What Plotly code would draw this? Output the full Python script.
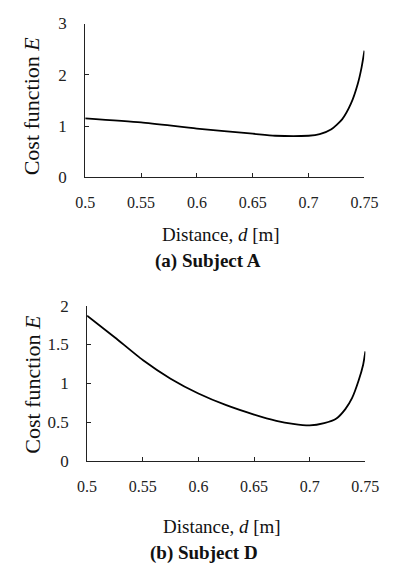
import plotly.graph_objects as go

# Subject A
d_a = [0.50, 0.55, 0.60, 0.65, 0.67, 0.70, 0.71, 0.72, 0.73, 0.738, 0.744, 0.7475, 0.75]
e_a = [1.15, 1.07, 0.95, 0.85, 0.81, 0.81, 0.84, 0.93, 1.13, 1.44, 1.82, 2.15, 2.47]

# Subject D
d_d = [0.50, 0.525, 0.55, 0.575, 0.60, 0.625, 0.65, 0.67, 0.685, 0.70, 0.713, 0.724, 0.732, 0.738, 0.744, 0.748, 0.75]
e_d = [1.87, 1.59, 1.30, 1.06, 0.87, 0.72, 0.60, 0.52, 0.48, 0.46, 0.49, 0.55, 0.67, 0.81, 1.04, 1.24, 1.41]

x_ticks = [0.5, 0.55, 0.6, 0.65, 0.7, 0.75]
x_labels = ["0.5", "0.55", "0.6", "0.65", "0.7", "0.75"]
ya_ticks = [0, 1, 2, 3]
yd_ticks = [0, 0.5, 1, 1.5, 2]
yd_labels = ["0", "0.5", "1", "1.5", "2"]

W, H = 401, 575
FONT = "Liberation Serif"

fig = go.Figure()
fig.add_trace(go.Scatter(x=d_a, y=e_a, mode="lines", line=dict(color="black", width=1.8, shape="spline", smoothing=0.6),
                         xaxis="x", yaxis="y", showlegend=False))
fig.add_trace(go.Scatter(x=d_d, y=e_d, mode="lines", line=dict(color="black", width=1.8, shape="spline", smoothing=0.6),
                         xaxis="x2", yaxis="y2", showlegend=False))

common_x = dict(range=[0.5, 0.75], tickvals=x_ticks, ticktext=x_labels, ticks="inside", ticklen=4,
                tickcolor="#222", showline=True, linecolor="#222", linewidth=1, showgrid=False,
                zeroline=False, tickfont=dict(family=FONT, size=16, color="#222"), ticklabelstandoff=11)
common_y = dict(ticks="inside", ticklen=4, tickcolor="#222", showline=True, linecolor="#222", linewidth=1,
                showgrid=False, zeroline=False, tickfont=dict(family=FONT, size=17, color="#222"),
                ticklabelstandoff=14)

fig.update_layout(
    width=W, height=H, margin=dict(l=0, r=0, t=0, b=0),
    paper_bgcolor="white", plot_bgcolor="white",
    xaxis=dict(domain=[80 / W, 377 / W], anchor="y", **common_x),
    yaxis=dict(domain=[1 - 174 / H, 1 - 15 / H], anchor="x", range=[0, 3], tickvals=ya_ticks, **common_y),
    xaxis2=dict(domain=[82 / W, 378 / W], anchor="y2", **common_x),
    yaxis2=dict(domain=[1 - 467.7 / H, 1 - 306.7 / H], anchor="x2", range=[0, 2], tickvals=yd_ticks,
                ticktext=yd_labels, **common_y),
)

def ann(text, x, y, size=14, angle=0):
    fig.add_annotation(text=text, x=x / W, y=1 - y / H, xref="paper", yref="paper", showarrow=False,
                       textangle=angle, font=dict(family=FONT, size=size, color="#111"),
                       xanchor="center", yanchor="middle")

ann("Distance, <i>d</i> [m]", 224, 233, 19)
ann("<b>(a) Subject A</b>", 211, 261, 19)
ann("Cost function <i>E</i>", 23, 100, 22, -90)
ann("Distance, <i>d</i> [m]", 225, 535, 19)
ann("<b>(b) Subject D</b>", 206, 563, 19)
ann("Cost function <i>E</i>", 24, 388, 22, -90)

fig.write_html("out.html")
